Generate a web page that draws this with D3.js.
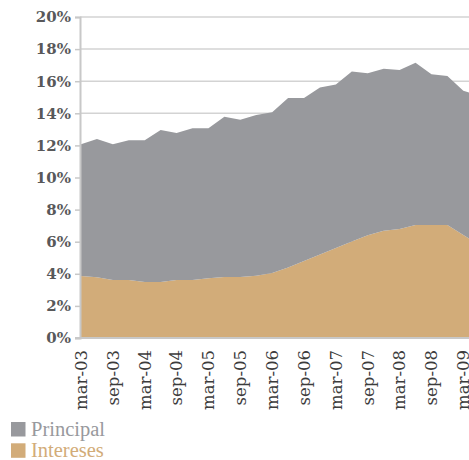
<!DOCTYPE html>
<html>
<head>
<meta charset="utf-8">
<script src="https://cdn.jsdelivr.net/npm/d3@7"></script>
<style>
  body { margin: 0; background: #fff; overflow: hidden; }
  svg { display: block; }
  .ytick { font-family: 'DejaVu Serif', serif; font-weight: bold; font-size: 15px; fill: #58585a; }
  .xtick { font-family: 'DejaVu Serif', serif; font-size: 16.5px; fill: #3c3c3c; }
  .legend-text { font-family: 'Liberation Serif', serif; font-size: 20.5px; }
</style>
</head>
<body>
<script>

// quarterly dates, mar-03 .. jun-09 (last one runs past the right edge)
let quarters = ['mar-03', 'jun-03', 'sep-03', 'dic-03', 'mar-04', 'jun-04', 'sep-04', 'dic-04',
  'mar-05', 'jun-05', 'sep-05', 'dic-05', 'mar-06', 'jun-06', 'sep-06', 'dic-06',
  'mar-07', 'jun-07', 'sep-07', 'dic-07', 'mar-08', 'jun-08', 'sep-08', 'dic-08',
  'mar-09', 'jun-09']

// % of income, interest part
let intereses = [3.86, 3.78, 3.61, 3.61, 3.49, 3.49, 3.61, 3.61,
  3.72, 3.80, 3.80, 3.88, 4.05, 4.40, 4.80, 5.21,
  5.60, 6.02, 6.40, 6.69, 6.79, 7.04, 7.04, 7.04,
  6.42, 5.80]

// % of income, principal part (stacked on top)
let principal = [8.21, 8.62, 8.46, 8.71, 8.83, 9.47, 9.16, 9.46,
  9.35, 9.99, 9.80, 10.02, 10.01, 10.55, 10.15, 10.39,
  10.20, 10.58, 10.10, 10.09, 9.91, 10.11, 9.39, 9.28,
  8.99, 9.30]

let yTicks = [0, 2, 4, 6, 8, 10, 12, 14, 16, 18, 20]
let xLabels = ['mar-03', 'sep-03', 'mar-04', 'sep-04', 'mar-05', 'sep-05', 'mar-06',
  'sep-06', 'mar-07', 'sep-07', 'mar-08', 'sep-08', 'mar-09']

let series = [
  { key: 'intereses', name: 'Intereses', color: '#d2ac79' },
  { key: 'principal', name: 'Principal', color: '#98999d' }
]

let translate = (x, y) => 'translate(' + x + ',' + y + ')'

let width = 469, height = 460
let margin = { top: 17, left: 80, bottom: 122 }
let plot_height = height - margin.top - margin.bottom

let svg = d3.select('body').append('svg')
  .attr('width', width)
  .attr('height', height)

let xScale = d3.scalePoint()
  .domain(quarters)
  .range([81, 81 + 15.93 * 25])

let yScale = d3.scaleLinear()
  .domain([0, 20])
  .range([margin.top + plot_height, margin.top])

let table = quarters.map((q, i) => ({ q: q, intereses: intereses[i], principal: principal[i] }))
let stacked = d3.stack().keys(series.map(s => s.key))(table)

// gridlines
svg.append('g')
  .selectAll('line')
  .data(yTicks.filter(t => t > 0))
  .enter()
  .append('line')
  .attr('x1', margin.left)
  .attr('x2', width)
  .attr('y1', d => yScale(d))
  .attr('y2', d => yScale(d))
  .attr('stroke', '#d3d3d3')
  .attr('stroke-width', 1.5)

let area = d3.area()
  .x((d, i) => xScale(quarters[i]))
  .y0(d => yScale(d[0]))
  .y1(d => yScale(d[1]))

svg.append('g')
  .selectAll('path')
  .data(stacked)
  .enter()
  .append('path')
  .attr('d', area)
  .attr('fill', (d, i) => series[i].color)

// y axis
let yAxis = d3.axisLeft(yScale)
  .tickValues(yTicks)
  .tickSize(5)
  .tickFormat(d => d + '%')

let yAxis_container = svg.append('g')
  .attr('transform', translate(margin.left, 0))
  .call(yAxis)

yAxis_container.select('.domain').attr('stroke', '#c8c8c8').attr('stroke-width', 2)
yAxis_container.selectAll('.tick line').attr('stroke', '#c8c8c8').attr('stroke-width', 1.5)
yAxis_container.selectAll('.tick text')
  .attr('class', 'ytick')
  .attr('x', -9)
  .attr('font-family', null)
  .attr('font-size', null)
  .attr('fill', null)

// x axis
let xAxis_container = svg.append('g')
  .attr('transform', translate(0, yScale(0)))

xAxis_container.append('line')
  .attr('x1', margin.left - 5)
  .attr('x2', width)
  .attr('stroke', '#c8c8c8')
  .attr('stroke-width', 2)

xAxis_container.selectAll('text')
  .data(xLabels)
  .enter()
  .append('text')
  .attr('class', 'xtick')
  .attr('transform', d => translate(xScale(d), 12) + ' rotate(-90)')
  .attr('dy', '0.35em')
  .style('text-anchor', 'end')
  .text(d => d)

// legend
let legend = svg.append('g')
  .attr('class', 'legend')
  .attr('transform', translate(11, 422))

let legend_items = series.slice().reverse()
legend_items.forEach((s, i) => {
  legend.append('rect')
    .attr('y', i * 21.3)
    .attr('width', 14.5)
    .attr('height', 14.5)
    .attr('fill', s.color)
  legend.append('text')
    .attr('class', 'legend-text')
    .attr('x', 20)
    .attr('y', i * 21.3 + 14)
    .attr('fill', s.color)
    .text(s.name)
})

</script>
</body>
</html>
